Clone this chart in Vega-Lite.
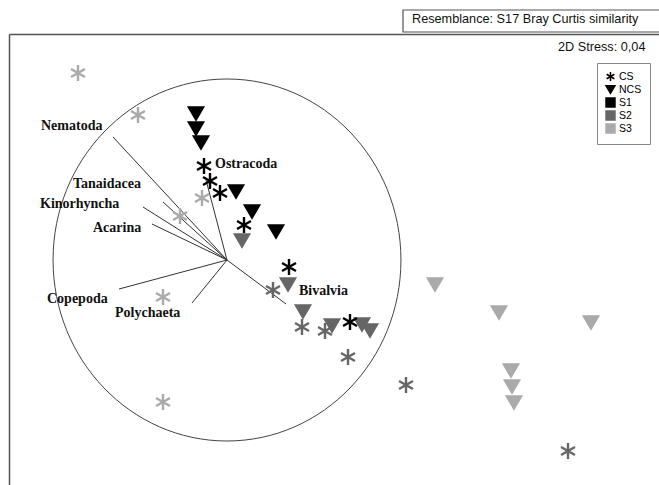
{
  "$schema": "https://vega.github.io/schema/vega-lite/v6.json",
  "width": 650,
  "height": 451,
  "autosize": {"type": "none"},
  "padding": {"left": 9, "top": 34, "right": 0, "bottom": 0},
  "background": "white",
  "config": {"view": {"stroke": null}},
  "datasets": {
    "pts": [
      {"site": "S3", "type": "CS", "x": -1.49, "y": 1.87},
      {"site": "S3", "type": "CS", "x": -0.89, "y": 1.45},
      {"site": "S3", "type": "CS", "x": -0.47, "y": 0.44},
      {"site": "S3", "type": "CS", "x": -0.25, "y": 0.62},
      {"site": "S3", "type": "CS", "x": -0.64, "y": -0.37},
      {"site": "S3", "type": "CS", "x": -0.64, "y": -1.42},
      {"site": "S1", "type": "NCS", "x": -0.31, "y": 1.46},
      {"site": "S1", "type": "NCS", "x": -0.31, "y": 1.31},
      {"site": "S1", "type": "NCS", "x": -0.26, "y": 1.17},
      {"site": "S1", "type": "NCS", "x": 0.09, "y": 0.68},
      {"site": "S1", "type": "NCS", "x": 0.25, "y": 0.48},
      {"site": "S1", "type": "NCS", "x": 0.49, "y": 0.28},
      {"site": "S1", "type": "CS", "x": -0.23, "y": 0.94},
      {"site": "S1", "type": "CS", "x": -0.17, "y": 0.79},
      {"site": "S1", "type": "CS", "x": -0.07, "y": 0.67},
      {"site": "S1", "type": "CS", "x": 0.17, "y": 0.35},
      {"site": "S1", "type": "CS", "x": 0.62, "y": -0.07},
      {"site": "S1", "type": "CS", "x": 1.23, "y": -0.62},
      {"site": "S2", "type": "NCS", "x": 0.15, "y": 0.19},
      {"site": "S2", "type": "NCS", "x": 0.61, "y": -0.25},
      {"site": "S2", "type": "NCS", "x": 0.76, "y": -0.52},
      {"site": "S2", "type": "NCS", "x": 1.05, "y": -0.66},
      {"site": "S2", "type": "NCS", "x": 1.35, "y": -0.65},
      {"site": "S2", "type": "NCS", "x": 1.43, "y": -0.71},
      {"site": "S2", "type": "CS", "x": 0.46, "y": -0.30},
      {"site": "S2", "type": "CS", "x": 0.75, "y": -0.67},
      {"site": "S2", "type": "CS", "x": 0.98, "y": -0.71},
      {"site": "S2", "type": "CS", "x": 1.21, "y": -0.97},
      {"site": "S2", "type": "CS", "x": 1.79, "y": -1.25},
      {"site": "S2", "type": "CS", "x": 3.41, "y": -1.91},
      {"site": "S3", "type": "NCS", "x": 2.08, "y": -0.25},
      {"site": "S3", "type": "NCS", "x": 2.72, "y": -0.53},
      {"site": "S3", "type": "NCS", "x": 3.64, "y": -0.63},
      {"site": "S3", "type": "NCS", "x": 2.84, "y": -1.11},
      {"site": "S3", "type": "NCS", "x": 2.85, "y": -1.27},
      {"site": "S3", "type": "NCS", "x": 2.87, "y": -1.43}
    ],
    "vec": [
      {"name": "Nematoda", "ox": 0, "oy": 0, "ex": -1.14, "ey": 1.23, "lx": -1.86, "ly": 1.34},
      {"name": "Ostracoda", "ox": 0, "oy": 0, "ex": -0.21, "ey": 0.80, "lx": -0.12, "ly": 0.96},
      {"name": "Tanaidacea", "ox": 0, "oy": 0, "ex": -0.64, "ey": 0.58, "lx": -1.54, "ly": 0.76},
      {"name": "Kinorhyncha", "ox": 0, "oy": 0, "ex": -0.84, "ey": 0.53, "lx": -1.87, "ly": 0.56},
      {"name": "Acarina", "ox": 0, "oy": 0, "ex": -0.75, "ey": 0.36, "lx": -1.34, "ly": 0.32},
      {"name": "Copepoda", "ox": 0, "oy": 0, "ex": -1.08, "ey": -0.29, "lx": -1.80, "ly": -0.39},
      {"name": "Polychaeta", "ox": 0, "oy": 0, "ex": -0.35, "ey": -0.43, "lx": -1.12, "ly": -0.53},
      {"name": "Bivalvia", "ox": 0, "oy": 0, "ex": 0.59, "ey": -0.44, "lx": 0.72, "ly": -0.31}
    ],
    "notes": [
      {"text": "Resemblance: S17 Bray Curtis similarity", "x": 1.85, "y": 2.41},
      {"text": "2D Stress: 0,04", "x": 3.31, "y": 2.13}
    ],
    "circle": [{"x": 0, "y": 0}],
    "box": [{"x": 1.76, "x2": 4.6, "y": 2.50, "y2": 2.28}]
  },
  "encoding": {
    "x": {
      "field": "x", "type": "quantitative",
      "scale": {"domain": [-2.18, 4.32], "nice": false, "zero": false},
      "axis": {"orient": "top", "domain": true, "domainColor": "#555555", "domainWidth": 1.5, "ticks": false, "labels": false, "grid": false, "title": null}
    },
    "y": {
      "field": "y", "type": "quantitative",
      "scale": {"domain": [-2.25, 2.26], "nice": false, "zero": false},
      "axis": {"orient": "left", "domain": true, "domainColor": "#555555", "domainWidth": 1.5, "ticks": false, "labels": false, "grid": false, "title": null}
    }
  },
  "layer": [
    {
      "data": {"name": "box"},
      "mark": {"type": "rect", "fill": "white", "stroke": "#555555", "strokeWidth": 1.2},
      "encoding": {"x2": {"field": "x2"}, "y2": {"field": "y2"}}
    },
    {
      "data": {"name": "circle"},
      "mark": {"type": "point", "shape": "M-0.961,0A0.961,1,0,1,1,0.961,0A0.961,1,0,1,1,-0.961,0Z", "size": 131044, "filled": false, "stroke": "#444444", "strokeWidth": 1, "opacity": 1}
    },
    {
      "data": {"name": "vec"},
      "mark": {"type": "rule", "stroke": "#333333", "strokeWidth": 1},
      "encoding": {
        "x": {"field": "ox", "type": "quantitative"},
        "y": {"field": "oy", "type": "quantitative"},
        "x2": {"field": "ex"},
        "y2": {"field": "ey"}
      }
    },
    {
      "data": {"name": "vec"},
      "mark": {"type": "text", "font": "Liberation Serif", "fontWeight": "bold", "fontSize": 14, "align": "left", "baseline": "middle", "color": "#111111"},
      "encoding": {
        "x": {"field": "lx", "type": "quantitative"},
        "y": {"field": "ly", "type": "quantitative"},
        "text": {"field": "name"}
      }
    },
    {
      "data": {"name": "notes"},
      "mark": {"type": "text", "font": "Liberation Sans", "fontSize": 12.7, "align": "left", "baseline": "middle", "color": "#111111"},
      "encoding": {"text": {"field": "text"}}
    },
    {
      "data": {"name": "pts"},
      "transform": [{"filter": "datum.type === 'NCS'"}],
      "mark": {"type": "point", "filled": true, "size": 330, "strokeWidth": 0, "opacity": 1},
      "encoding": {
        "color": {
          "field": "site", "type": "nominal",
          "scale": {"domain": ["CS", "NCS", "S1", "S2", "S3"], "range": ["#000000", "#000000", "#000000", "#666666", "#aaaaaa"]},
          "legend": {"title": null, "orient": "none", "legendX": 588, "legendY": 29, "padding": 8, "strokeColor": "#888888", "labelFont": "Liberation Sans", "labelFontSize": 10.5, "labelColor": "#000000", "symbolSize": 80, "rowPadding": -5, "labelOffset": 3, "symbolStrokeWidth": 1.5, "symbolOpacity": 1,
            "encode": {"symbols": {"update": {"fill": {"scale": "color", "field": "value"}, "stroke": {"scale": "color", "field": "value"}}}}}
        },
        "shape": {
          "field": "type", "type": "nominal",
          "scale": {"domain": ["CS", "NCS", "S1", "S2", "S3"], "range": ["M0,-1L0,1M-0.866,-0.5L0.866,0.5M-0.866,0.5L0.866,-0.5", "triangle-down", "square", "square", "square"]},
          "legend": {"title": null, "orient": "none", "legendX": 588, "legendY": 29, "padding": 8, "strokeColor": "#888888", "labelFont": "Liberation Sans", "labelFontSize": 10.5, "labelColor": "#000000", "symbolSize": 80, "rowPadding": -5, "labelOffset": 3, "symbolStrokeWidth": 1.5, "symbolOpacity": 1,
            "encode": {"symbols": {"update": {"fill": {"scale": "color", "field": "value"}, "stroke": {"scale": "color", "field": "value"}}}}}
        }
      }
    },
    {
      "data": {"name": "pts"},
      "transform": [{"filter": "datum.type === 'CS'"}],
      "mark": {"type": "point", "filled": false, "size": 260, "strokeWidth": 2.4, "opacity": 1},
      "encoding": {
        "color": {"field": "site", "type": "nominal"},
        "shape": {"field": "type", "type": "nominal"}
      }
    }
  ]
}
